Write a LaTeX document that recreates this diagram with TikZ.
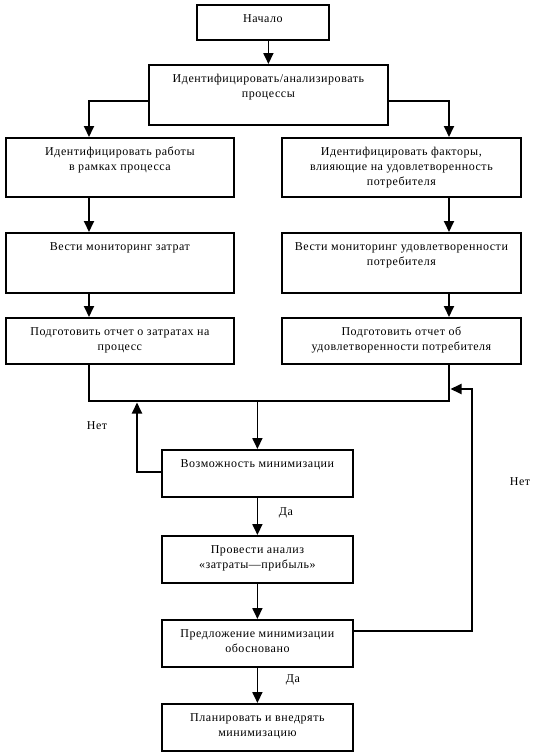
\documentclass[tikz,border=0pt]{standalone}
\usepackage{fontspec}
\setmainfont[LetterSpace=4.5]{Liberation Serif}
\usetikzlibrary{arrows.meta}
\newcommand\bx[3]{\parbox[c][#2pt][t]{#1pt}{\vspace*{7.5pt}\centering\strut #3\par}}
\begin{document}
\begin{tikzpicture}[x=1pt,y=-1pt,
  font=\fontsize{12}{15}\selectfont,
  box/.style={draw, line width=1.8pt, inner sep=0pt, anchor=north west},
  conn/.style={line width=1.8pt},
  arr/.style={conn, -{Triangle[width=10pt,length=11pt]}},
  lbl/.style={inner sep=0pt}]
\useasboundingbox (0,0) rectangle (535,755);
% boxes
\node[box] (start) at (196,4)  {\bx{132}{35}{Начало}};
\node[box] (ident) at (148,64) {\bx{239}{60}{Идентифицировать/анализировать\\процессы}};
\node[box] (l1) at (5,137)   {\bx{228}{59}{Идентифицировать работы\\в рамках процесса}};
\node[box] (r1) at (281,137) {\bx{239}{59}{Идентифицировать факторы,\\влияющие на удовлетворенность\\потребителя}};
\node[box] (l2) at (5,232)   {\bx{228}{60}{Вести мониторинг затрат}};
\node[box] (r2) at (281,232) {\bx{239}{60}{Вести мониторинг удовлетворенности\\потребителя}};
\node[box] (l3) at (5,317)   {\bx{228}{46}{Подготовить отчет о затратах на\\процесс}};
\node[box] (r3) at (281,317) {\bx{239}{46}{Подготовить отчет об\\удовлетворенности потребителя}};
\node[box] (poss) at (161,449) {\bx{191}{47}{Возможность минимизации}};
\node[box] (anal) at (161,535) {\bx{191}{47}{Провести анализ\\«затраты—прибыль»}};
\node[box] (prop) at (161,619) {\bx{191}{47}{Предложение минимизации\\обосновано}};
\node[box] (plan) at (161,703) {\bx{191}{47}{Планировать и внедрять\\минимизацию}};
% helper coordinates
\coordinate (il) at (89,101);
\coordinate (ir) at (449,101);
\coordinate (bl) at (89,401);
\coordinate (br) at (449,401);
\coordinate (nl) at (137,472);
\coordinate (nlt) at (137,402.5);
\coordinate (nr) at (472,631);
\coordinate (nrt) at (472,389);
\coordinate (nre) at (450.5,389);
% connectors
\draw[arr] (start.south -| ident.north) -- (ident.north);
\draw[arr] (ident.west |- il) -- (il) -- (l1.north -| il);
\draw[arr] (ident.east |- ir) -- (ir) -- (r1.north -| ir);
\draw[arr] (l1.south -| il) -- (l2.north -| il);
\draw[arr] (r1.south -| ir) -- (r2.north -| ir);
\draw[arr] (l2.south -| il) -- (l3.north -| il);
\draw[arr] (r2.south -| ir) -- (r3.north -| ir);
\draw[conn, line join=miter] (l3.south -| bl) -- (bl) -- (br) -- (r3.south -| br);
\draw[arr] (poss.north |- bl) -- (poss.north);
\draw[arr] (poss.west |- nl) -- (nl) -- (nlt);
\draw[arr] (poss.south) -- (anal.north);
\draw[arr] (anal.south) -- (prop.north);
\draw[arr] (prop.east |- nr) -- (nr) -- (nrt) -- (nre);
\draw[arr] (prop.south) -- (plan.north);
% labels
\node[lbl] (no1) at (97,426) {Нет};
\node[lbl] (no2) at (520,482) {Нет};
\node[lbl] (yes1) at (286,513) {Да};
\node[lbl] (yes2) at (293,680) {Да};
\end{tikzpicture}
\end{document}
